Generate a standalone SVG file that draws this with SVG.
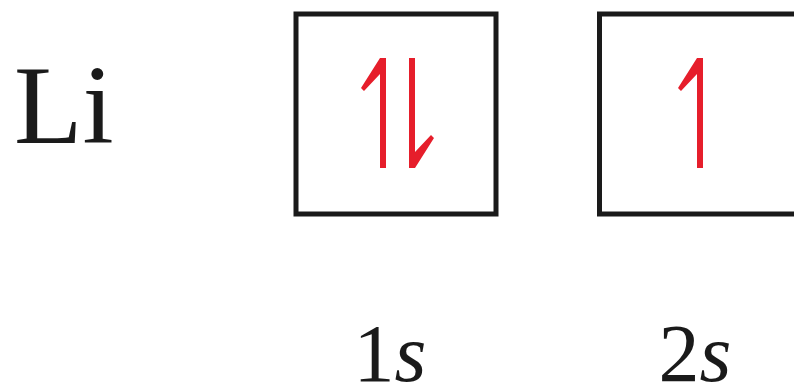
<svg xmlns="http://www.w3.org/2000/svg" width="794" height="387" viewBox="0 0 794 387">
<style>
.box{fill:#fff;stroke:#1a1a1a;stroke-width:5}
.spin{fill:#e61e2b}
.t{font-family:"Liberation Serif",serif;fill:#1a1a1a}
</style>
<rect width="794" height="387" fill="#fff"/>
<g id="element">
<text class="t" x="14" y="143" font-size="112">Li</text>
</g>
<g id="orbital-1s">
<rect class="box" x="296" y="14" width="200" height="200"/>
<path class="spin" d="M380,58 L386,58 L386,168 L380,168 L380,74 L364,91 L361,88 Z"/>
<path class="spin" d="M409,58 L415,58 L415,152 L431,135 L434,138 L415,168 L409,168 Z"/>
<text class="t" x="390" y="381" font-size="82" text-anchor="middle">1<tspan font-style="italic">s</tspan></text>
</g>
<g id="orbital-2s">
<rect class="box" x="599.5" y="14" width="200" height="200"/>
<path class="spin" d="M697,58 L703,58 L703,168 L697,168 L697,74 L681,91 L678,88 Z"/>
<text class="t" x="695" y="381" font-size="82" text-anchor="middle">2<tspan font-style="italic">s</tspan></text>
</g>
</svg>
